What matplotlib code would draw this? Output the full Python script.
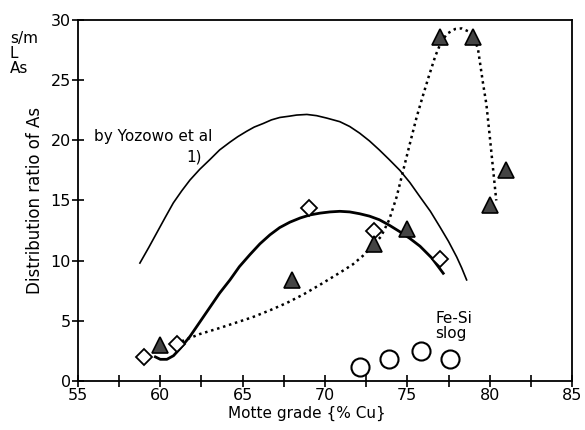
import matplotlib.pyplot as plt
import numpy as np

# measured points
diamond_x = [59, 61, 69, 73, 77]
diamond_y = [2.0, 3.1, 14.4, 12.5, 10.1]

triangle_x = [60, 68, 73, 75, 77, 79, 80, 81]
triangle_y = [3.0, 8.4, 11.4, 12.6, 28.6, 28.6, 14.6, 17.5]

slag_x = [72.1, 73.9, 75.8, 77.6]
slag_y = [1.2, 1.8, 2.5, 1.8]

# curve by Yazawa et al (thin)
yaz_x = [58.76, 59.3, 59.78, 60.3, 60.79, 61.3, 61.8, 62.4, 63.01, 63.6, 64.23, 64.7, 65.24,
         65.7, 66.25, 66.75, 67.26, 67.8, 68.28, 68.9, 69.49, 70.1, 70.9, 71.5, 72.1, 72.7,
         73.3, 73.9, 74.55, 75.15, 75.77, 76.4, 76.98, 77.5, 78.0, 78.3, 78.6]
yaz_y = [9.8, 11.1, 12.3, 13.6, 14.8, 15.8, 16.7, 17.6, 18.4, 19.2, 19.85, 20.3, 20.75,
         21.1, 21.4, 21.7, 21.9, 22.0, 22.1, 22.15, 22.05, 21.85, 21.55, 21.15, 20.6, 19.95,
         19.2, 18.4, 17.5, 16.5, 15.3, 14.1, 12.8, 11.6, 10.3, 9.4, 8.4]

# this work, fit through diamonds (thick)
fit_x = [59.7, 60.0, 60.4, 60.8, 61.2, 61.8, 62.4, 63.0, 63.6, 64.23, 64.8, 65.44, 66.05,
         66.66, 67.25, 67.87, 68.5, 69.09, 69.7, 70.3, 70.9, 71.5, 72.1, 72.7, 73.3, 73.9,
         74.55, 75.15, 75.77, 76.5, 77.18]
fit_y = [2.0, 1.8, 1.8, 2.1, 2.7, 3.7, 4.9, 6.1, 7.3, 8.4, 9.5, 10.5, 11.4,
         12.15, 12.75, 13.2, 13.55, 13.8, 13.95, 14.05, 14.1, 14.05, 13.9, 13.7, 13.4, 12.95,
         12.4, 11.85, 11.2, 10.2, 8.95]

# dotted curve through triangles
dot_x = [61.3, 62.4, 63.6, 64.6, 65.6, 66.7, 67.7, 68.7, 69.7, 70.9, 71.7, 72.3, 72.8, 73.4,
         73.9, 74.35, 74.75, 75.16, 75.56, 75.9, 76.3, 76.7, 77.0, 77.4, 77.9, 78.3, 78.8, 79.1,
         79.3, 79.45, 79.6, 79.8, 80.0, 80.2, 80.4]
dot_y = [3.3, 3.9, 4.4, 4.85, 5.3, 5.9, 6.5, 7.2, 8.0, 9.0, 9.7, 10.4, 11.1, 12.0,
         13.4, 15.3, 17.5, 19.75, 21.9, 23.5, 25.3, 27.0, 28.0, 28.85, 29.25, 29.3, 29.0, 28.4,
         27.5, 26.1, 24.7, 23.0, 20.4, 17.7, 15.0]

fig = plt.figure(figsize=(5.85, 4.30), dpi=100)
ax = fig.add_axes([0.1333, 0.114, 0.8445, 0.8395])

ax.plot(yaz_x, yaz_y, color='black', lw=1.2)
ax.plot(fit_x, fit_y, color='black', lw=2.0)
ax.plot(dot_x, dot_y, color='black', lw=1.8, ls=(0, (1, 1.5)))

ax.plot(diamond_x, diamond_y, ls='none', marker='D', ms=8, mfc='white', mec='black', mew=1.3)
ax.plot(triangle_x, triangle_y, ls='none', marker='^', ms=11, mfc='#444444', mec='black', mew=1.2)
ax.plot(slag_x, slag_y, ls='none', marker='o', ms=13, mfc='white', mec='black', mew=1.5)

ax.set_xlim(55, 85)
ax.set_ylim(0, 30)
ax.set_xticks(np.arange(55, 85.1, 2.5))
ax.set_xticklabels(['55', '', '60', '', '65', '', '70', '', '75', '', '80', '', '85'])
ax.set_yticks(np.arange(0, 31, 5))
ax.tick_params(direction='inout', length=8, width=1.2, labelsize=11.5, pad=1)
for s in ax.spines.values():
    s.set_linewidth(1.3)

fig.text(0.525, 0.038, 'Motte grade {% Cu}', fontsize=11, ha='center', va='center')
ax.set_ylabel('Distribution ratio of As', fontsize=12, labelpad=5)

ax.text(56.0, 20.3, 'by Yozowo et al', fontsize=11, va='center')
ax.text(61.6, 18.6, '1)', fontsize=11, va='center')
ax.text(76.7, 5.8, 'Fe-Si\nslog', fontsize=11, va='top', linespacing=1.0)
fig.text(0.017, 0.928, 's/m\nL\nAs', fontsize=11, va='top', linespacing=1.0)

fig.savefig('out.png')
